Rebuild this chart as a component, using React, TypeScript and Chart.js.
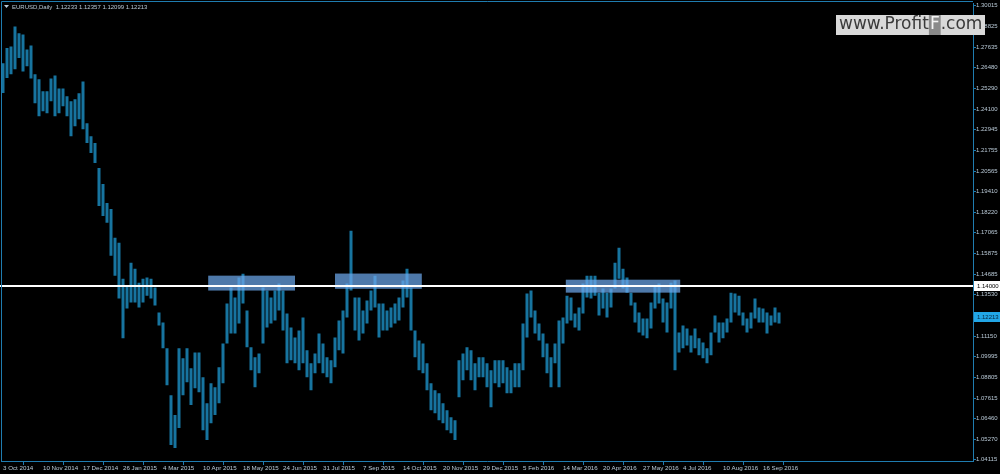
import React, { useEffect, useRef } from 'react';
import { Chart, registerables } from 'chart.js';

Chart.register(...registerables);

// x-axis date labels (one every 10 sample columns)
const dateLabels = [
  '3 Oct 2014', '10 Nov 2014', '17 Dec 2014', '26 Jan 2015', '4 Mar 2015',
  '10 Apr 2015', '18 May 2015', '24 Jun 2015', '31 Jul 2015', '7 Sep 2015',
  '14 Oct 2015', '20 Nov 2015', '29 Dec 2015', '5 Feb 2016', '14 Mar 2016',
  '20 Apr 2016', '27 May 2016', '4 Jul 2016', '10 Aug 2016', '16 Sep 2016',
];

// right-hand price scale labels
const priceTicks = [
  1.30015, 1.28825, 1.27635, 1.2648, 1.2529, 1.241, 1.22945, 1.21755, 1.20565,
  1.1941, 1.1822, 1.17065, 1.15875, 1.14685, 1.1353, 1.1234, 1.1115, 1.09995,
  1.08805, 1.07615, 1.0646, 1.0527, 1.04115,
];

// high / low of each column of bars
const highs = [
  1.2673, 1.2759, 1.2768, 1.2882, 1.2844, 1.2837, 1.2751, 1.2774, 1.2609, 1.2581,
  1.2512, 1.2512, 1.2586, 1.2603, 1.2529, 1.2529, 1.2484, 1.2456, 1.2467, 1.2501,
  1.2569, 1.2330, 1.2256, 1.2217, 1.2074, 1.1983, 1.1875, 1.1841, 1.1676, 1.1648,
  1.1443, 1.1403, 1.1534, 1.1500, 1.1420, 1.1443, 1.1449, 1.1443, 1.1392, 1.1250,
  1.1193, 1.1045, 1.0778, 1.0664, 1.1045, 1.0988, 1.1045, 1.0931, 1.1022, 1.1022,
  1.0880, 1.0732, 1.0846, 1.0823, 1.0937, 1.1073, 1.1301, 1.1392, 1.1335, 1.1449,
  1.1471, 1.1261, 1.1051, 1.0994, 1.1016, 1.1392, 1.1375, 1.1335, 1.1375, 1.1415,
  1.1375, 1.1244, 1.1164, 1.1107, 1.1147, 1.1221, 1.1034, 1.0960, 1.1016, 1.1130,
  1.1073, 1.0994, 1.0977, 1.1107, 1.1204, 1.1261, 1.1415, 1.1716, 1.1335, 1.1335,
  1.1261, 1.1318, 1.1375, 1.1460, 1.1301, 1.1301, 1.1261, 1.1278, 1.1301, 1.1335,
  1.1432, 1.1500, 1.1392, 1.1147, 1.1090, 1.1073, 1.0960, 1.0846, 1.0806, 1.0789,
  1.0732, 1.0692, 1.0652, 1.0635, 1.0977, 1.1016, 1.1051, 1.1034, 1.0960, 1.0994,
  1.0994, 1.0960, 1.0920, 1.0977, 1.0977, 1.0977, 1.0937, 1.0920, 1.0960, 1.0960,
  1.1187, 1.1358, 1.1375, 1.1261, 1.1187, 1.1130, 1.1073, 1.0994, 1.1073, 1.1204,
  1.1221, 1.1346, 1.1335, 1.1244, 1.1278, 1.1415, 1.1460, 1.1460, 1.1460, 1.1363,
  1.1386, 1.1363, 1.1386, 1.1534, 1.1619, 1.1500, 1.1449, 1.1363, 1.1307, 1.1250,
  1.1216, 1.1216, 1.1307, 1.1403, 1.1415, 1.1329, 1.1307, 1.1420, 1.1432, 1.1136,
  1.1176, 1.1159, 1.1119, 1.1159, 1.1102, 1.1079, 1.1045, 1.1136, 1.1233, 1.1193,
  1.1193, 1.1216, 1.1363, 1.1358, 1.1346, 1.1250, 1.1216, 1.1250, 1.1329, 1.1278,
  1.1272, 1.1250, 1.1233, 1.1278, 1.1250,
];
const lows = [
  1.2503, 1.2588, 1.2609, 1.2638, 1.2702, 1.2626, 1.2655, 1.2586, 1.2444, 1.2370,
  1.2399, 1.2387, 1.2456, 1.2370, 1.2387, 1.2427, 1.2370, 1.2256, 1.2313, 1.2353,
  1.2296, 1.2217, 1.2160, 1.2103, 1.1858, 1.1801, 1.1762, 1.1574, 1.1460, 1.1329,
  1.1102, 1.1272, 1.1307, 1.1307, 1.1278, 1.1307, 1.1346, 1.1329, 1.1290, 1.1176,
  1.1045, 1.0834, 1.0493, 1.0476, 1.0590, 1.0778, 1.0852, 1.0721, 1.0817, 1.0795,
  1.0578, 1.0522, 1.0618, 1.0664, 1.0732, 1.0846, 1.1073, 1.1130, 1.1130, 1.1187,
  1.1301, 1.1051, 1.0920, 1.0823, 1.0903, 1.1073, 1.1164, 1.1187, 1.1204, 1.1261,
  1.1147, 1.0960, 1.0977, 1.0960, 1.0920, 1.0960, 1.0880, 1.0806, 1.0903, 1.0960,
  1.0903, 1.0880, 1.0846, 1.0937, 1.1034, 1.1016, 1.1221, 1.1375, 1.1147, 1.1090,
  1.1130, 1.1187, 1.1261, 1.1278, 1.1107, 1.1147, 1.1147, 1.1164, 1.1187, 1.1204,
  1.1278, 1.1335, 1.1147, 1.0994, 1.0920, 1.0903, 1.0806, 1.0692, 1.0675, 1.0635,
  1.0618, 1.0578, 1.0561, 1.0522, 1.0766, 1.0863, 1.0920, 1.0863, 1.0806, 1.0880,
  1.0880, 1.0823, 1.0709, 1.0846, 1.0823, 1.0846, 1.0789, 1.0789, 1.0823, 1.0823,
  1.0920, 1.1107, 1.1221, 1.1130, 1.1090, 1.0994, 1.0903, 1.0823, 1.0960, 1.0823,
  1.1073, 1.1187, 1.1204, 1.1164, 1.1147, 1.1244, 1.1335, 1.1329, 1.1346, 1.1233,
  1.1272, 1.1221, 1.1278, 1.1386, 1.1443, 1.1386, 1.1363, 1.1290, 1.1193, 1.1136,
  1.1119, 1.1102, 1.1159, 1.1272, 1.1301, 1.1193, 1.1136, 1.1272, 1.0920, 1.1022,
  1.1045, 1.1062, 1.1022, 1.1045, 1.1005, 1.0988, 1.0960, 1.1005, 1.1136, 1.1079,
  1.1102, 1.1136, 1.1193, 1.1250, 1.1233, 1.1176, 1.1136, 1.1159, 1.1216, 1.1193,
  1.1193, 1.1130, 1.1176, 1.1193, 1.1187,
];

const slotCount = 243;

// highlighted resistance zones (column index range, price range)
const zoneStart = [51.3, 83.0, 140.7];
const zoneEnd = [73.0, 104.7, 169.3];
const zoneTop = [1.146, 1.1472, 1.1437];
const zoneBottom = [1.1375, 1.1385, 1.1363];

const levelPrice = 1.14;
const lastPrice = 1.12213;
const headerText = 'EURUSD,Daily  1.12233 1.12357 1.12099 1.12213';

const AXIS_BLUE = '#1f7cb0';
const BAR_BLUE = '#17749f';
const TEXT_COL = '#b9c9d6';
const FONT = '"Liberation Sans", Arial, sans-serif';

export default function App() {
  const ref = useRef<HTMLCanvasElement | null>(null);

  useEffect(() => {
    document.body.style.margin = '0';
    document.body.style.background = '#000';
    const canvas = ref.current;
    if (!canvas) return;

    const labels = Array.from({ length: slotCount }, (_, i) => String(i));
    const barData = highs.map((h, i) => [lows[i], h]);

    const overlay = {
      id: 'overlay',
      beforeDraw(chart: any) {
        const c = chart.ctx;
        c.save();
        c.fillStyle = '#000';
        c.fillRect(0, 0, chart.width, chart.height);
        c.restore();
      },
      afterDatasetsDraw(chart: any) {
        const c = chart.ctx;
        const { x, y } = chart.scales;
        const area = chart.chartArea;
        c.save();
        for (let k = 0; k < zoneStart.length; k++) {
          const x0 = x.getPixelForValue(zoneStart[k]);
          const x1 = x.getPixelForValue(zoneEnd[k]);
          const y0 = y.getPixelForValue(zoneTop[k]);
          const y1 = y.getPixelForValue(zoneBottom[k]);
          c.fillStyle = 'rgba(108, 168, 235, 0.72)';
          c.fillRect(x0, y0, x1 - x0, y1 - y0);
        }
        const ly = Math.round(y.getPixelForValue(levelPrice));
        c.fillStyle = '#ffffff';
        c.fillRect(0, ly - 1, area.right, 2);
        c.restore();
      },
      afterDraw(chart: any) {
        const c = chart.ctx;
        const { y } = chart.scales;
        const area = chart.chartArea;
        c.save();
        // frame (top / left)
        c.strokeStyle = AXIS_BLUE;
        c.lineWidth = 1;
        c.beginPath();
        c.moveTo(1.5, area.bottom);
        c.lineTo(1.5, 1.5);
        c.lineTo(area.right, 1.5);
        c.stroke();

        // level label
        c.font = `6px ${FONT}`;
        c.textBaseline = 'middle';
        c.textAlign = 'left';
        const ly = Math.round(y.getPixelForValue(levelPrice));
        c.fillStyle = '#ffffff';
        c.fillRect(area.right + 1, ly - 5, 27, 10);
        c.fillStyle = '#000000';
        c.fillText(levelPrice.toFixed(5), area.right + 4, ly);

        // last price label
        const py = Math.round(y.getPixelForValue(lastPrice));
        c.fillStyle = '#22a6e6';
        c.fillRect(area.right + 1, py - 5, 27, 10);
        c.fillStyle = '#06233a';
        c.fillText(lastPrice.toFixed(5), area.right + 4, py);

        // header
        c.fillStyle = TEXT_COL;
        c.beginPath();
        c.moveTo(4, 5);
        c.lineTo(9, 5);
        c.lineTo(6.5, 8);
        c.closePath();
        c.fill();
        c.font = `6px ${FONT}`;
        c.fillText(headerText, 12, 7);

        // watermark
        c.fillStyle = '#d9d9d9';
        c.fillRect(836, 15, 149, 20);
        c.font = `17px "DejaVu Sans", sans-serif`;
        c.textBaseline = 'middle';
        const wx = 839;
        const wy = 25;
        c.fillStyle = '#3a3a3a';
        c.fillText('www.Profit', wx, wy);
        const w1 = c.measureText('www.Profit').width;
        const wf = c.measureText('F').width;
        c.fillStyle = '#8a8a8a';
        c.fillRect(wx + w1, 15, wf + 2, 20);
        c.fillStyle = '#f4f4f4';
        c.fillText('F', wx + w1 + 1, wy);
        c.fillStyle = '#3a3a3a';
        c.fillText('.com', wx + w1 + wf + 2, wy);
        c.restore();
      },
    };

    const chart = new Chart(canvas, {
      type: 'bar',
      data: {
        labels,
        datasets: [
          {
            data: barData as any,
            backgroundColor: BAR_BLUE,
            borderWidth: 0,
            barPercentage: 1,
            categoryPercentage: 0.75,
          },
        ],
      },
      options: {
        responsive: false,
        animation: false,
        devicePixelRatio: 1,
        layout: { padding: { left: 1, top: 2, right: 0, bottom: 0 } },
        plugins: {
          legend: { display: false },
          tooltip: { enabled: false },
          title: { display: false },
        },
        scales: {
          x: {
            type: 'category',
            grid: {
              display: true,
              drawOnChartArea: false,
              drawTicks: true,
              tickLength: 4,
              color: AXIS_BLUE,
              offset: true,
            },
            border: { display: true, color: AXIS_BLUE, width: 1 },
            afterBuildTicks: (axis: any) => {
              axis.ticks = dateLabels.map((_, k) => ({ value: k * 10 }));
            },
            afterFit: (axis: any) => {
              axis.height = 13;
            },
            ticks: {
              autoSkip: false,
              maxRotation: 0,
              minRotation: 0,
              align: 'start',
              padding: 0,
              color: TEXT_COL,
              font: { size: 6.2, family: FONT },
              callback: (_v: any, idx: number) => dateLabels[idx] ?? '',
            },
          },
          y: {
            type: 'linear',
            position: 'right',
            min: 1.0402,
            max: 1.3013,
            grid: {
              display: true,
              drawOnChartArea: false,
              drawTicks: true,
              tickLength: 3,
              color: AXIS_BLUE,
            },
            border: { display: true, color: AXIS_BLUE, width: 1 },
            afterBuildTicks: (axis: any) => {
              axis.ticks = priceTicks.map((v) => ({ value: v }));
            },
            afterFit: (axis: any) => {
              axis.width = 27;
            },
            ticks: {
              autoSkip: false,
              padding: 0,
              color: TEXT_COL,
              font: { size: 6, family: FONT },
              callback: (v: any) => Number(v).toFixed(5),
            },
          },
        },
      },
      plugins: [overlay],
    });

    return () => chart.destroy();
  }, []);

  return (
    <div style={{ position: 'absolute', left: 0, top: 0, width: 1000, height: 474, background: '#000' }}>
      <canvas ref={ref} width={1000} height={474} style={{ display: 'block' }} />
    </div>
  );
}
